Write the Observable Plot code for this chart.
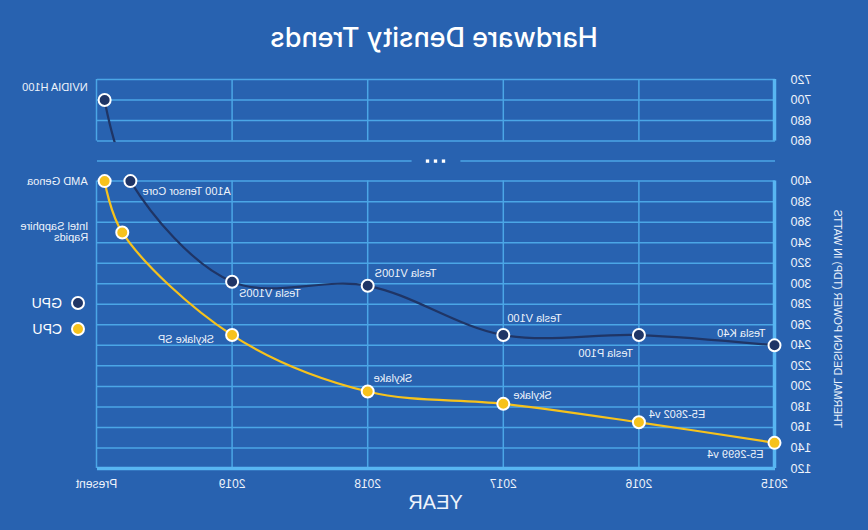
<!DOCTYPE html>
<html>
<head>
<meta charset="utf-8">
<script src="https://cdn.jsdelivr.net/npm/d3@7"></script>
<script src="https://cdn.jsdelivr.net/npm/@observablehq/plot@0.6"></script>
<style>
  html, body { margin: 0; padding: 0; background: #2862b0; }
  #wrap { position: relative; width: 868px; height: 530px; background: #2862b0; overflow: hidden;
          transform: scaleX(-1); font-family: "Liberation Sans", Arial, sans-serif; }
  #title { position: absolute; left: 0; top: 20px; width: 868px; text-align: center; color: #ffffff;
           font-family: Inter, "Liberation Sans", Arial, sans-serif; font-weight: 500;
           font-size: 27px; line-height: 36px; }
  #chart { position: absolute; left: 0; top: 60px; }
  .leg { position: absolute; left: 783px; height: 14px; display: flex; align-items: center; color: #ffffff;
         font-size: 14px; }
  .leg .sw { width: 14px; height: 14px; box-sizing: border-box; border: 2px solid #ffffff; border-radius: 50%; margin-right: 9px; }
</style>
</head>
<body>
<div id="wrap">
  <div id="title">Hardware Density Trends</div>
  <div id="chart"></div>
  <div class="leg" style="top:296px"><span class="sw" style="background:#1f3566"></span><span>GPU</span></div>
  <div class="leg" style="top:322px"><span class="sw" style="background:#f6c21c"></span><span>CPU</span></div>
</div>
<script>
// ---------- data ----------
const xTicks = [2015, 2016, 2017, 2018, 2019, 2020];
const xTickLabels = ["2015", "2016", "2017", "2018", "2019", "Present"];

const lowerTicks = [120, 140, 160, 180, 200, 220, 240, 260, 280, 300, 320, 340, 360, 380, 400];
const upperTicks = [660, 680, 700, 720];

const gpuNames = ["Tesla K40", "Tesla P100", "Tesla V100", "Tesla V100S", "Tesla V100S", "A100 Tensor Core", "NVIDIA H100"];
const gpuYear  = [2015, 2016, 2017, 2018, 2019, 2019.75, 2019.94];
const gpuTDP   = [240, 250, 250, 298, 302, 400, 700];

const cpuNames = ["E5-2699 v4", "E5-2602 v4", "Skylake", "Skylake", "Skylake SP", "Intel Sapphire\nRapids", "AMD Genoa"];
const cpuYear  = [2015, 2016, 2017, 2018, 2019, 2019.81, 2019.94];
const cpuTDP   = [145, 165, 183, 195, 250, 350, 400];

// ---------- layout (label placement) ----------
const gpuLabelLayout = [
  {anchor: "start", dx: 9,   dy: -12},
  {anchor: "start", dx: 6,   dy: 18},
  {anchor: "end",   dx: -4,  dy: -17},
  {anchor: "end",   dx: -7,  dy: -12},
  {anchor: "end",   dx: -7,  dy: 12},
  {anchor: "end",   dx: -12, dy: 10},
  {anchor: "start", dx: 17,  dy: -13}
];
const cpuLabelLayout = [
  {anchor: "start", dx: 11,  dy: 12},
  {anchor: "end",   dx: -10, dy: -8},
  {anchor: "end",   dx: -10, dy: -8},
  {anchor: "end",   dx: -6,  dy: -13},
  {anchor: "start", dx: 18,  dy: 4},
  {anchor: "start", dx: 34,  dy: 0},
  {anchor: "start", dx: 17,  dy: 0}
];

// ---------- colours ----------
const bg = "#2862b0", gridC = "#4ba6e6", axisC = "#58b6f2", navy = "#1f3566", yellow = "#f6c21c", txt = "#eef3fb";

// ---------- broken axis mapping ----------
const lowerTop = 400, upperBottom = 660, gapUnits = 39;
const V = d => d >= upperBottom ? d - upperBottom + lowerTop + gapUnits : d;   // real -> virtual
const R = d => d > lowerTop + gapUnits / 2 ? d + upperBottom - lowerTop - gapUnits : d; // virtual -> real
const panels = [{lo: 120, hi: 400}, {lo: 660, hi: 720}];
const x0 = xTicks[0], x1 = xTicks[xTicks.length - 1], xMid = (x0 + x1) / 2, breakHalf = 0.18;

const gpu = gpuNames.map((n, i) => ({name: n, x: gpuYear[i], tdp: gpuTDP[i], ...gpuLabelLayout[i]}));
const cpu = cpuNames.map((n, i) => ({name: n, x: cpuYear[i], tdp: cpuTDP[i], ...cpuLabelLayout[i]}));

const vGrid = [];
for (const p of panels) for (const x of xTicks.slice(1)) vGrid.push({x, lo: p.lo, hi: p.hi});
const axisSeg = panels.map(p => ({x: x0, lo: p.lo, hi: p.hi}));

const labelMarks = [...gpu, ...cpu].map(d =>
  Plot.text([d], {x: "x", y: e => V(e.tdp), text: "name", textAnchor: d.anchor, dx: d.dx, dy: d.dy,
    fontSize: 11, fill: txt, lineHeight: 1.0})
);

const chart = Plot.plot({
  width: 868, height: 470,
  marginTop: 19, marginBottom: 62, marginLeft: 93, marginRight: 97,
  x: {domain: [x0, x1]},
  y: {domain: [120, V(720)]},
  style: {background: "transparent", color: txt, fontFamily: "'Liberation Sans', Arial, sans-serif"},
  marks: [
    Plot.ruleY([...lowerTicks, ...upperTicks], {y: d => V(d), x1: x0, x2: x1, stroke: gridC, strokeWidth: 1.5}),
    Plot.ruleX(vGrid, {x: "x", y1: d => V(d.lo), y2: d => V(d.hi), stroke: gridC, strokeWidth: 1.5}),
    Plot.ruleX(axisSeg, {x: "x", y1: d => V(d.lo), y2: d => V(d.hi), stroke: axisC, strokeWidth: 3.5}),
    Plot.ruleY([120], {x1: x0, x2: x1, stroke: axisC, strokeWidth: 3.5}),
    Plot.line(gpu, {x: "x", y: d => V(d.tdp), curve: "catmull-rom", stroke: navy, strokeWidth: 2.2}),
    Plot.line(cpu, {x: "x", y: d => V(d.tdp), curve: "catmull-rom", stroke: yellow, strokeWidth: 2.2}),
    Plot.rect([0], {x1: x0, x2: x1, y1: lowerTop, y2: V(upperBottom), fill: bg, insetTop: 1.5, insetBottom: 1.5}),
    Plot.ruleY([{a: x0, b: xMid - breakHalf}, {a: xMid + breakHalf, b: x1}],
      {y: (lowerTop + V(upperBottom)) / 2, x1: "a", x2: "b", stroke: gridC, strokeWidth: 1.5}),
    ...[-8, 0, 8].map(o => Plot.dot([xMid], {x: d => d, y: (lowerTop + V(upperBottom)) / 2, dx: o,
      symbol: "square", r: 1.9, fill: "#ffffff", stroke: "none"})),
    Plot.dot(gpu, {x: "x", y: d => V(d.tdp), r: 6, fill: navy, stroke: "#ffffff", strokeWidth: 2}),
    Plot.dot(cpu, {x: "x", y: d => V(d.tdp), r: 6, fill: yellow, stroke: "#ffffff", strokeWidth: 2}),
    ...labelMarks,
    Plot.axisY([...lowerTicks, ...upperTicks].map(V), {tickSize: 0, tickPadding: 16, tickFormat: d => String(R(d)),
      fontSize: 12.5, label: null}),
    Plot.axisX(xTicks, {tickSize: 0, tickPadding: 11, tickFormat: d => xTickLabels[xTicks.indexOf(d)],
      fontSize: 12, label: null}),
    Plot.text(["THERMAL DESIGN POWER (TDP) IN WATTS"], {text: d => d, frameAnchor: "left", textAnchor: "middle",
      y: (panels[0].lo + panels[0].hi) / 2, dx: -63, dy: -6, rotate: -90, fontSize: 10.5, fill: txt}),
    Plot.text(["YEAR"], {text: d => d, frameAnchor: "bottom", dy: 40, fontSize: 20, fill: txt})
  ]
});
document.getElementById("chart").appendChild(chart);
</script>
</body>
</html>
